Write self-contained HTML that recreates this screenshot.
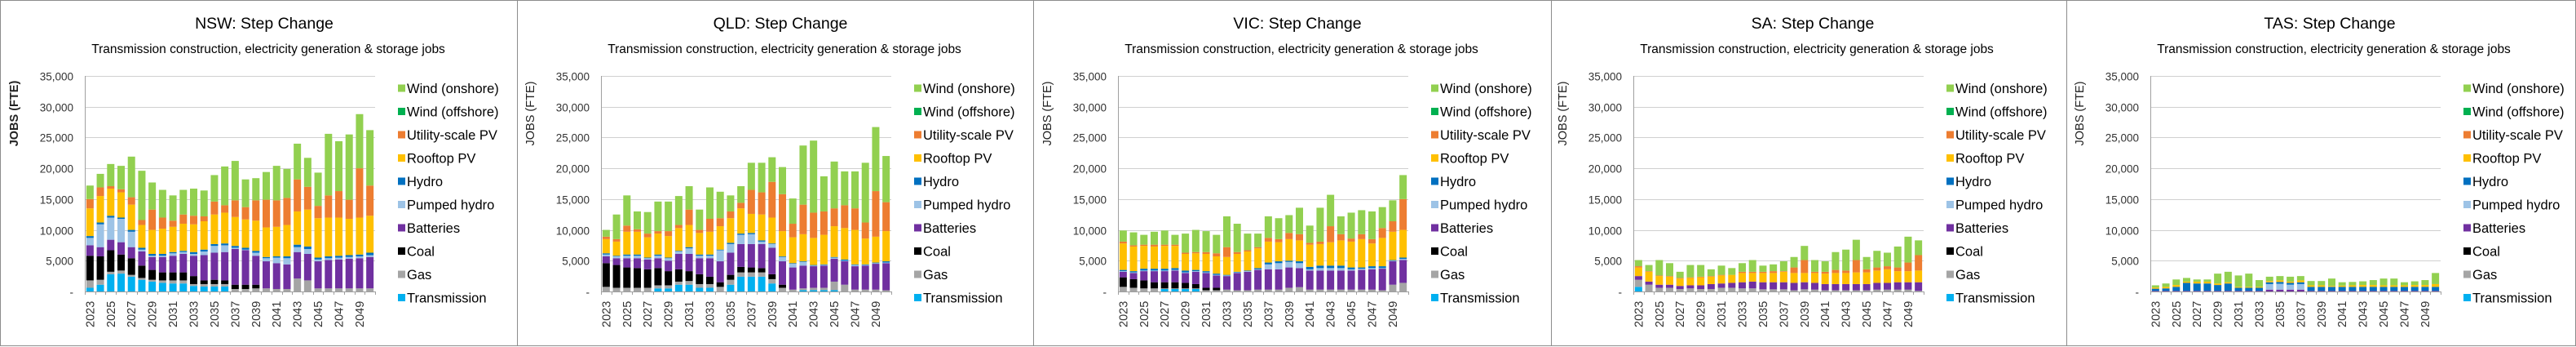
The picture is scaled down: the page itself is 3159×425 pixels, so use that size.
<!DOCTYPE html>
<html><head><meta charset="utf-8">
<style>
html,body{margin:0;padding:0;background:#fff;}
svg{display:block;font-family:"Liberation Sans",sans-serif;}
</style></head>
<body>
<svg id="chart" width="3159" height="425" viewBox="0 0 3159 425" xmlns="http://www.w3.org/2000/svg"></svg>
<script>
// ---- shared data ----
const years = [2023,2024,2025,2026,2027,2028,2029,2030,2031,2032,2033,2034,2035,2036,2037,2038,2039,2040,2041,2042,2043,2044,2045,2046,2047,2048,2049,2050];
const seriesNames = ["Transmission","Gas","Coal","Batteries","Pumped hydro","Hydro","Rooftop PV","Utility-scale PV","Wind (offshore)","Wind (onshore)"];
const seriesColors = ["#00B0F0","#A5A5A5","#000000","#7030A0","#9DC3E6","#0070C0","#FFC000","#ED7D31","#00B050","#92D050"];
const yTicks = [0,5000,10000,15000,20000,25000,30000,35000];
const yTickLabels = ["-","5,000","10,000","15,000","20,000","25,000","30,000","35,000"];
const Z = new Array(28).fill(0);

// ---- NSW (thousand FTE) ----
const nswTransmission = [0.6,1.1,2.8,2.9,2.4,1.9,1.6,1.4,1.3,1.3,0.9,0.8,0.8,0.8,0,0,0,0,0,0,0,0,0,0,0,0,0,0];
const nswGas = [1.2,0.8,0.4,0.5,0.3,0.3,0.3,0.4,0.5,0.5,0.3,0.4,0.4,0.4,0.4,0.4,0.5,0.5,0.4,0.4,2.1,1.8,0.5,0.5,0.5,0.5,0.5,0.5];
const nswCoal = [4.0,3.8,3.5,2.6,2.7,2.0,1.6,1.3,1.3,1.3,1.3,0.6,0.7,0.6,0.7,0.7,0.6,0,0,0,0,0,0,0,0,0,0,0];
const nswBatteries = [1.7,1.5,1.7,2.0,1.8,2.3,2.1,2.5,2.7,3.0,3.3,4.1,4.4,4.6,5.8,5.6,4.7,4.4,4.2,4.0,4.3,4.3,4.4,4.6,4.7,4.8,4.9,5.1];
const nswPumped = [1.2,3.7,3.6,3.8,2.5,0.3,0.2,0.2,0.4,0.3,0.3,0.6,1.1,1.1,0.2,0.1,0.5,0.5,0.9,1.0,0.8,0.8,0.3,0.3,0.3,0.3,0.3,0.3];
const nswHydro = [0.3,0.3,0.3,0.2,0.3,0.3,0.3,0.3,0.2,0.2,0.3,0.3,0.3,0.3,0.3,0.3,0.3,0.2,0.2,0.3,0.4,0.4,0.3,0.3,0.3,0.3,0.3,0.4];
const nswRooftop = [4.5,4.3,4.4,4.1,4.1,3.7,3.9,4.1,4.1,4.4,4.5,4.6,4.8,5.0,4.7,4.6,4.9,4.8,4.8,5.1,5.4,6.0,6.4,6.3,6.2,5.9,6.0,6.0];
const nswUtility = [1.5,1.4,0.4,0.5,1.2,0.8,3.3,1.8,1.0,1.5,1.4,0.8,2.1,1.2,2.7,2.0,3.3,4.5,4.3,4.4,5.2,3.7,2.0,3.6,4.3,3.1,8.0,4.9];
const nswOffshore = Z;
const nswOnshore = [2.2,2.2,3.6,3.8,6.6,8.0,4.4,4.5,4.1,4.0,4.4,4.2,4.3,6.3,6.4,4.5,3.6,4.5,5.6,4.7,5.8,4.7,5.4,10.0,8.1,10.6,8.8,9.0];

// ---- QLD ----
const qldTransmission = [0,0,0,0,0,0.5,0.5,1.1,1.1,0.6,0.6,0,1.1,2.4,2.4,2.4,1.3,0,0,0.2,0.2,0.2,0.2,0,0,0,0,0];
const qldGas = [0.75,0.6,0.6,0.6,0.6,0.5,0.5,0.5,0.6,0.6,0.6,0.75,0.8,0.7,0.7,0.7,0.7,0.6,0.3,0.3,0.4,0.4,1.4,1.1,0.3,0.3,0.3,0.2];
const qldCoal = [3.85,3.7,3.3,3.2,3.0,2.8,2.3,2.0,1.6,1.6,1.2,0.75,0.8,0.9,0.8,0.7,0.8,0.5,0,0,0,0,0,0,0,0,0,0];
const qldBatteries = [1.1,1.1,1.5,1.6,1.6,1.6,1.7,2.5,2.8,2.6,3.0,3.4,3.6,3.7,3.8,3.9,4.3,3.8,3.6,3.7,3.5,3.6,3.7,3.8,3.8,3.9,4.2,4.4];
const qldPumped = [0.3,0.3,0.4,0.4,0.2,0.4,0.4,0.4,0.9,0.4,0.4,1.8,1.4,1.5,1.6,0.4,0.6,0.7,0.6,0.6,0.1,0.1,0.2,0.1,0.2,0.1,0.1,0.1];
const qldHydro = [0.2,0.1,0.2,0.2,0.1,0.2,0.1,0.1,0.2,0.2,0.2,0.1,0.2,0.2,0.2,0.2,0.1,0.1,0.1,0.1,0.1,0.1,0.1,0.2,0.1,0.1,0.1,0.2];
const qldRooftop = [2.3,2.3,3.7,3.7,3.3,3.4,3.5,3.7,3.6,3.5,3.7,3.8,4.0,4.1,3.1,4.2,4.2,4.1,4.2,4.4,4.4,4.8,5.0,5.1,5.6,4.2,4.2,4.9];
const qldUtility = [0.4,0.4,1.0,0.4,0.6,0.4,0.8,0.5,2.5,0.5,2.1,1.3,1.1,0.9,3.9,3.6,5.8,6.0,2.2,4.8,4.1,3.8,2.9,3.7,3.5,2.6,7.4,4.7];
const qldOffshore = Z;
const qldOnshore = [1.1,4.0,4.9,2.9,3.5,4.8,4.8,4.7,3.8,3.3,5.1,4.3,2.6,2.7,4.4,4.8,4.0,4.4,4.1,9.6,11.7,5.7,7.6,5.5,6.0,9.7,10.4,7.5];

// ---- VIC ----
const vicTransmission = [0,0,0,0,0.4,0.4,0.4,0.4,0,0,0,0,0,0,0,0,0,0,0,0,0,0,0,0,0,0,0,0];
const vicGas = [0.75,0.6,0.5,0.5,0.1,0.1,0.1,0.1,0.2,0.2,0.3,0.2,0.2,0.3,0.3,0.3,0.6,0.7,0.3,0.3,0.3,0.3,0.3,0.3,0.3,0.2,1.1,1.4];
const vicCoal = [1.55,1.4,1.3,1.0,1.0,1.0,0.9,0.7,0.4,0.4,0,0,0,0,0,0,0,0,0,0,0,0,0,0,0,0,0,0];
const vicBatteries = [0.9,1.0,1.5,1.8,1.8,1.9,1.6,2.0,2.4,2.0,2.2,2.8,3.0,3.2,3.3,3.3,3.3,3.1,3.1,3.1,3.1,3.1,3.1,3.2,3.3,3.5,3.8,3.7];
const vicPumped = [0.1,0.1,0.1,0.1,0.1,0.1,0.1,0.1,0.1,0.1,0.1,0.1,0.1,0.1,0.8,1.0,0.9,0.8,0.2,0.4,0.4,0.4,0.2,0.2,0.2,0.1,0.1,0.2];
const vicHydro = [0.2,0.2,0.3,0.3,0.3,0.3,0.3,0.2,0.2,0.2,0.1,0.1,0.1,0.2,0.3,0.3,0.2,0.3,0.4,0.4,0.4,0.4,0.3,0.2,0.3,0.3,0.1,0.2];
const vicRooftop = [4.3,4.0,3.7,3.6,3.7,3.6,2.7,2.7,2.8,2.8,2.9,2.9,3.1,3.2,3.4,3.1,3.5,3.4,3.6,3.5,3.8,4.1,4.2,4.6,3.7,4.6,4.6,4.5];
const vicUtility = [0.3,0.2,0.2,0.3,0.2,0.2,0.2,0.2,0.3,0.5,1.6,0.3,0.2,0.2,0.6,0.5,1.0,1.0,0.3,0.4,2.6,1.0,0.5,0.8,0.7,1.6,1.7,5.0];
const vicOffshore = Z;
const vicOnshore = [1.8,2.1,1.6,2.1,2.3,1.6,3.1,3.6,3.4,3.0,5.0,4.6,2.7,2.2,3.5,3.4,2.9,4.3,2.8,5.5,5.1,2.9,4.2,3.9,4.5,3.4,3.4,3.9];

// ---- SA ----
const saTransmission = [0.75,0,0,0,0,0,0,0,0,0,0,0,0,0,0,0,0,0,0,0,0,0,0,0,0,0,0,0];
const saGas = [1.15,1.1,0.6,0.6,0.4,0.5,0.4,0.4,0.6,0.6,0.5,0.5,0.35,0.35,0.35,0.2,0.35,0.3,0.2,0.2,0.2,0.2,0.2,0.3,0.3,0.3,0.3,0.1];
const saCoal = Z;
const saBatteries = [0.6,0.5,0.5,0.5,0.5,0.5,0.6,0.8,0.7,0.8,1.0,1.1,1.15,1.15,1.15,1.2,1.15,1.1,1.0,1.0,1.0,1.0,1.0,1.1,1.1,1.2,1.2,1.4];
const saPumped = Z;
const saHydro = Z;
const saRooftop = [1.4,1.6,1.4,1.3,1.2,1.2,1.3,1.2,1.3,1.3,1.5,1.4,1.5,1.5,1.7,1.6,1.5,1.6,1.7,1.8,1.8,1.9,1.9,2.0,2.2,1.8,1.8,1.9];
const saUtility = [0.2,0.1,0.1,0.1,0.1,0.1,0.1,0.1,0.1,0,0.2,0.2,0.2,0.3,0.1,0.9,2.1,0.2,0.3,0.5,0.4,2.0,0.5,0.5,0.5,0.6,1.4,2.5];
const saOffshore = Z;
const saOnshore = [1.0,1.0,2.5,2.1,1.0,2.0,1.9,1.1,1.5,1.1,1.4,1.9,1.0,1.1,1.6,1.7,2.3,1.9,1.7,2.9,3.4,3.3,2.0,2.7,2.2,3.4,4.2,2.4];

// ---- TAS ----
const tasTransmission = Z;
const tasGas = Z;
const tasCoal = Z;
const tasBatteries = [0.1,0.1,0.1,0.1,0.1,0.1,0.1,0.1,0.1,0.1,0.1,0.3,0.3,0.3,0.3,0.1,0.1,0.1,0.1,0.1,0.1,0.1,0.1,0.1,0.1,0.1,0.1,0.1];
const tasPumped = [0,0,0,0,0,0,0,0,0,0,0,0.9,0.95,0.8,0.9,0,0,0,0,0,0,0,0,0,0,0,0,0];
const tasHydro = [0.35,0.4,0.65,1.3,1.2,1.2,0.95,1.2,0.5,0.5,0.5,0.3,0.3,0.3,0.3,0.65,0.65,0.65,0.65,0.65,0.65,0.65,0.65,0.65,0.65,0.65,0.65,0.65];
const tasRooftop = [0.2,0.25,0.3,0.2,0.3,0.3,0.25,0.2,0.15,0.15,0.15,0.2,0.25,0.2,0.3,0.25,0.25,0.15,0.2,0.25,0.3,0.3,0.25,0.25,0.25,0.3,0.3,0.45];
const tasUtility = Z;
const tasOffshore = Z;
const tasOnshore = [0.35,0.55,0.9,0.6,0.35,0.35,1.6,1.7,1.85,2.15,1.1,0.7,0.7,0.8,0.7,0.7,0.7,1.2,0.55,0.55,0.6,0.8,1.1,1.1,0.5,0.6,0.8,1.8];

const panels = [
  {key:"nsw", title:"NSW: Step Change", left:0, right:634, axisX:104, boldY:true,
   series:[nswTransmission,nswGas,nswCoal,nswBatteries,nswPumped,nswHydro,nswRooftop,nswUtility,nswOffshore,nswOnshore]},
  {key:"qld", title:"QLD: Step Change", left:634, right:1267, axisX:737, boldY:false,
   series:[qldTransmission,qldGas,qldCoal,qldBatteries,qldPumped,qldHydro,qldRooftop,qldUtility,qldOffshore,qldOnshore]},
  {key:"vic", title:"VIC: Step Change", left:1267, right:1902, axisX:1371, boldY:false,
   series:[vicTransmission,vicGas,vicCoal,vicBatteries,vicPumped,vicHydro,vicRooftop,vicUtility,vicOffshore,vicOnshore]},
  {key:"sa", title:"SA: Step Change", left:1902, right:2534, axisX:2003, boldY:false,
   series:[saTransmission,saGas,saCoal,saBatteries,saPumped,saHydro,saRooftop,saUtility,saOffshore,saOnshore]},
  {key:"tas", title:"TAS: Step Change", left:2534, right:3158, axisX:2637, boldY:false,
   series:[tasTransmission,tasGas,tasCoal,tasBatteries,tasPumped,tasHydro,tasRooftop,tasUtility,tasOffshore,tasOnshore]}
];

const NS = "http://www.w3.org/2000/svg";
const svg = document.getElementById("chart");
function mk(tag, attrs, parent, text){
  const e = document.createElementNS(NS, tag);
  for (const k in attrs) e.setAttribute(k, attrs[k]);
  if (text !== undefined) e.textContent = text;
  (parent||svg).appendChild(e);
  return e;
}
const plotTop = 93, plotBottom = 357, plotW = 356, yMax = 35000;
function yScale(v){ return plotBottom - v / yMax * (plotBottom - plotTop); }

const ob = mk("rect",{x:0.5,y:0.5,width:3158,height:423,fill:"none",stroke:"#8c8c8c","stroke-width":1});



panels.forEach(p => {
  const g = mk("g",{});
  
  
  if (p.left > 0) {
    const d = mk("line",{x1:p.left+0.5,y1:0,x2:p.left+0.5,y2:424,stroke:"#8c8c8c","stroke-width":1},g);
    
    
  }
  const ax = p.axisX;
  const band = plotW / years.length;
  function xScale(i){ return ax + band * i; }

  const t = mk("text",{x:ax+220,y:35,"text-anchor":"middle","font-size":19.5,fill:"#000"},g,p.title);
  
  
  const st = mk("text",{x:ax+225,y:65,"text-anchor":"middle","font-size":15.5,fill:"#000"},g,"Transmission construction, electricity generation & storage jobs");
  
  

  yTicks.forEach((v,i) => {
    const y = Math.round(yScale(v)) + 0.5;
    if (v > 0) {
      const gl = mk("line",{x1:ax,y1:y,x2:ax+plotW,y2:y,stroke:"#d0d0d0","stroke-width":1},g);
      
      
    }
    const tl = mk("text",{x:ax-14,y:y+5,"text-anchor":"end","font-size":13.5,fill:"#333"},g,yTickLabels[i]);
    
    
  });
  const yt = mk("text",{transform:`translate(${ax-82},${139}) rotate(-90)`,"text-anchor":"middle","font-size":14.5,"font-weight":p.boldY?"bold":"normal",fill:"#222"},g,"JOBS (FTE)");
  
  

  const bw = 9;
  years.forEach((yr,i) => {
    let cum = 0;
    p.series.forEach((s,si) => {
      const v = s[i] * 1000;
      if (v <= 0) return;
      const y0 = yScale(cum), y1 = yScale(cum + v);
      const r = mk("rect",{x:(xScale(i)+(band-bw)/2).toFixed(2),y:y1.toFixed(2),width:bw,height:(y0-y1).toFixed(2),fill:seriesColors[si]},g);
      
      
      cum += v;
    });
  });

  const yl = mk("line",{x1:ax+0.5,y1:plotTop,x2:ax+0.5,y2:plotBottom,stroke:"#a0a0a0","stroke-width":1},g);
  
  
  const xl = mk("line",{x1:ax,y1:plotBottom+0.5,x2:ax+plotW,y2:plotBottom+0.5,stroke:"#a0a0a0","stroke-width":1},g);
  
  
  for (let i=0;i<=years.length;i++){
    const x = Math.round(xScale(i))+0.5;
    const tk = mk("line",{x1:x,y1:plotBottom,x2:x,y2:plotBottom+4,stroke:"#a0a0a0","stroke-width":1},g);
    
    
  }
  years.forEach((yr,i) => {
    if (i % 2 !== 0) return;
    const cx = xScale(i) + band/2 + 5;
    const xl2 = mk("text",{transform:`translate(${cx.toFixed(1)},401) rotate(-90)`,"text-anchor":"start","font-size":14.5,fill:"#333"},g,String(yr));
    
    
  });

  const lx = ax + 384;
  for (let k = seriesNames.length-1, n=0; k >= 0; k--, n++){
    const ly = 108 + n * 28.5;
    const lg = mk("g",{},g);
    
    
    mk("rect",{x:lx,y:ly-4.5,width:9,height:9,fill:seriesColors[k]},lg);
    mk("text",{x:lx+11,y:ly+6,"font-size":16.5,fill:"#000"},lg,seriesNames[k]);
  }
});
</script>
</body></html>
